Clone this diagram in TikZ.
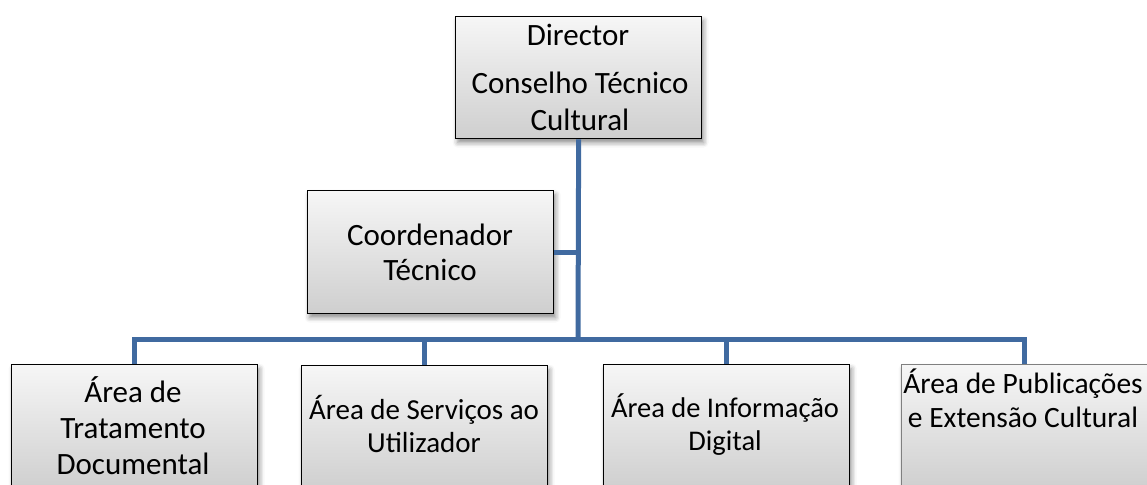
\documentclass[tikz,border=0pt]{standalone}
\usepackage{fontspec}
\setmainfont{Carlito}
\usetikzlibrary{shadows.blur}
\definecolor{connblue}{RGB}{64,106,160}
\begin{document}
\begin{tikzpicture}[x=1pt,y=-1pt,
  box/.style={draw=black, line width=1.3pt, top color=gray!7, bottom color=gray!38,
    blur shadow={shadow xshift=2pt, shadow yshift=-4pt, shadow blur radius=5pt, shadow opacity=45},
    minimum width=246pt, minimum height=122pt, inner sep=0pt, anchor=north west},
  txt/.style={align=center, anchor=base, font=\fontsize{31}{36}\selectfont, inner sep=0pt},
  link/.style={draw=connblue, line width=5pt}]
\useasboundingbox (0,0) rectangle (1147,484);
\clip (0,0) rectangle (1147,484);
% boxes
\node[box] (dir) at (455,16) {};
\node[box, minimum height=123pt] (coord) at (307,190) {};
\node[box, minimum height=125pt] (b1) at (11,364) {};
\node[box, minimum height=125pt] (b2) at (301,365) {};
\node[box, minimum height=125pt] (b3) at (603,364) {};
\node[box, minimum height=125pt, draw=gray] (b4) at (901,364) {};
% texts (anchor base = baseline of the last line)
\node[txt] (tdir) at (578,46) {Director};
\node[txt] (tcons) at (580,130) {Conselho Técnico\\Cultural};
\node[txt, font=\fontsize{31}{35}\selectfont] (tcoord) at (430,280) {Coordenador\\Técnico};
\node[txt] (t1) at (133,474) {Área de\\Tratamento\\Documental};
\node[txt, font=\fontsize{29}{32.5}\selectfont] (t2) at (424,452) {Área de Serviços ao\\Utilizador};
\node[txt, font=\fontsize{28.5}{33}\selectfont] (t3) at (725,450) {Área de Informação\\Digital};
\node[txt, font=\fontsize{29.5}{34}\selectfont] (t4) at (1023,427) {Área de Publicações\\e Extensão Cultural};
% connectors
\coordinate (bus) at (578,339);
\draw[link] (dir.south) -- (bus);
\draw[link] (coord.east) -- (coord.east -| dir.south);
\draw[link] (b1.north) |- (bus) -| (b4.north);
\draw[link] (b2.north) -- (b2.north |- bus);
\draw[link] (b3.north) -- (b3.north |- bus);
\end{tikzpicture}
\end{document}
